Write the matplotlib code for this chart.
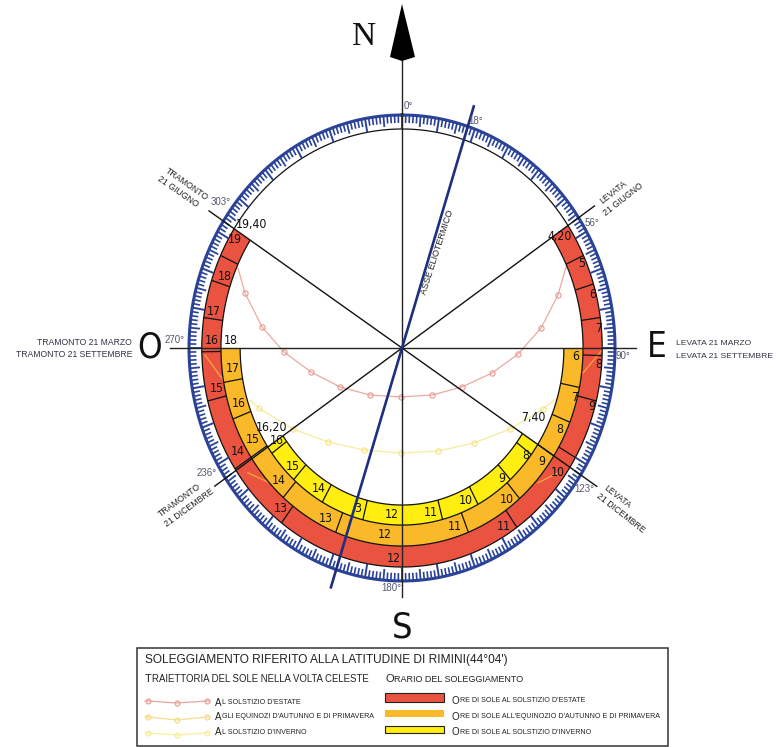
import numpy as np
import matplotlib
matplotlib.use("Agg")
import matplotlib.pyplot as plt
from matplotlib.patches import Polygon, Rectangle

plt.rcParams['font.family'] = ['Liberation Sans', 'DejaVu Sans']

W, H = 778, 747
CX, CY = 402, 348
RX, RY = 213, 233

NAVY = "#2a4398"
RED = "#ea5340"
ORANGE = "#f9b928"
YELLOW = "#ffee10"
GREY = "#55586e"

# azimuths of the sun at rise / set and of the hour dividers
summer_span = [56, 303]
equinox_span = [90, 270]
winter_span = [123, 236]
axis_az = 18
sun_lines = [56, 123, 236, 303]
sun_line_len = [1.09, 1.09, 1.06, 1.08]

summer_div = [65, 73, 82, 92, 104, 120, 145, 217, 236.5, 256, 269, 278, 288, 295]
equinox_div = [101.5, 112, 123, 139.5, 158.5, 201.5, 221, 236.5, 249, 260]
winter_div = [127, 138, 152, 165.5, 194, 209.5, 222, 233.5]

# sun paths, in units of the ring radius
summer_x = [-.770, -.737, -.657, -.554, -.427, -.291, -.150, -.005, .141, .282, .423, .545, .653, .732, .770]
summer_y = [.343, .236, .090, -.017, -.103, -.167, -.202, -.210, -.202, -.167, -.107, -.026, .086, .227, .348]
winter_x = [-.714, -.671, -.512, -.347, -.178, -.005, .169, .338, .507, .662, .728]
winter_y = [-.223, -.258, -.348, -.403, -.438, -.451, -.442, -.408, -.348, -.262, -.215]
# bits of the equinox path which show on the red band
equi_bits_x = [[-.925, -.840], [.850, .939], [-.723, -.620], [.638, .732]]
equi_bits_y = [[-.030, -.137], [-.107, -.009], [-.536, -.579], [-.579, -.536]]

# hour labels: text, pixel x, pixel y
red_labels = [("5", 582, 264), ("6", 593, 295), ("7", 599, 329), ("8", 599, 365), ("9", 592, 407),
              ("10", 558, 473), ("11", 504, 526), ("12", 394, 559), ("13", 281, 508), ("14", 238, 452),
              ("15", 217, 389), ("16", 212, 341), ("17", 214, 312), ("18", 225, 277), ("19", 235, 240)]
orange_labels = [("18", 231, 341), ("17", 233, 369), ("16", 239, 404), ("15", 253, 440), ("14", 279, 481),
                 ("13", 326, 519), ("12", 385, 534), ("11", 455, 526), ("10", 507, 500), ("9", 542, 462),
                 ("8", 560, 430), ("7", 575, 398), ("6", 576, 357)]
yellow_labels = [("16", 277, 441), ("15", 293, 467), ("14", 319, 489), ("3", 358, 508), ("12", 392, 515),
                 ("11", 431, 513), ("10", 466, 501), ("9", 502, 479), ("8", 526, 456)]
time_labels = [("4,20", 560, 237), ("19,40", 251, 225), ("7,40", 533, 418), ("16,20", 272, 428)]
deg_labels = [("0°", 408, 106), ("18°", 476, 121), ("56°", 592, 223), ("90°", 623, 356), ("123°", 584, 489),
              ("180°", 391, 588), ("236°", 207, 473), ("270°", 175, 340), ("303°", 221, 202)]
rot_labels = [("LEVATA", 613, 192, 38), ("21 GIUGNO", 623, 199, 38),
              ("LEVATA", 617, 497, -38), ("21 DICEMBRE", 621, 513, -38),
              ("TRAMONTO", 180, 500, 36), ("21 DICEMBRE", 189, 508, 36),
              ("TRAMONTO", 187, 184, -35), ("21 GIUGNO", 178, 192, -35)]


def unit(px, py):
    return (px - CX) / RX, (CY - py) / RY


def polar(az, r):
    a = np.radians(az)
    return r * np.sin(a), r * np.cos(a)


def band(az0, az1, r0, r1, color):
    az = np.linspace(az0, az1, 200)
    xo, yo = polar(az, r1)
    xi, yi = polar(az[::-1], r0)
    pts = np.column_stack([np.r_[xo, xi], np.r_[yo, yi]])
    ax.add_patch(Polygon(pts, closed=True, fc=color, ec="none", zorder=1))


def arc(az0, az1, r, **kw):
    x, y = polar(np.linspace(az0, az1, 400), r)
    ax.plot(x, y, **kw)


def label(s, px, py, size=9.5, **kw):
    x, y = unit(px, py)
    kw.setdefault("color", "#111111")
    kw.setdefault("zorder", 8)
    ax.text(x, y, s, size=size, ha=kw.pop("ha", "center"), va=kw.pop("va", "center"), **kw)


def px_to_x(disp):
    return ax.transData.inverted().transform((disp, 0))[0]


def small_caps(px, py, s, big=7, small=5.15):
    # first letter bigger, rest in small capitals
    x, y = unit(px, py)
    t = ax.text(x, y, s[0], size=big, va="center_baseline", color="#222222", zorder=8)
    bb = t.get_window_extent(fig.canvas.get_renderer())
    ax.text(px_to_x(bb.x1 + 0.5), y, s[1:], size=small, va="center_baseline", color="#222222", zorder=8)


fig = plt.figure(figsize=(W / 100, H / 100), dpi=100)
ax = fig.add_axes([0, 0, 1, 1])
ax.set_xlim(unit(0, 0)[0], unit(W, 0)[0])
ax.set_ylim(unit(0, H)[1], unit(0, 0)[1])
ax.axis("off")

# coloured bands
r_ring, r_red, r_orange, r_yellow = 0.94, 0.85, 0.76, 0.674
band(summer_span[0], summer_span[1], r_red, r_ring, RED)
band(equinox_span[0], equinox_span[1], r_orange, r_red, ORANGE)
band(winter_span[0], winter_span[1], r_yellow, r_orange, YELLOW)

line_kw = dict(color="#111111", lw=0.9, zorder=4, solid_capstyle="butt")
arc(0, 360, r_ring, **line_kw)
arc(summer_span[0], summer_span[1], r_red, **line_kw)
arc(equinox_span[0], equinox_span[1], r_orange, **line_kw)
arc(winter_span[0], winter_span[1], r_yellow, **line_kw)

for divs, r0, r1 in [(summer_div, r_red, r_ring), (equinox_div, r_orange, r_red), (winter_div, r_yellow, r_orange)]:
    for az in divs:
        x, y = polar(az, np.array([r0, r1]))
        ax.plot(x, y, **line_kw)

# degree scale
for deg in range(0, 360):
    if deg % 10 == 0:
        r0, lw = 0.94, 1.4
    elif deg % 5 == 0:
        r0, lw = 0.952, 1.3
    else:
        r0, lw = 0.966, 1.2
    x, y = polar(deg, np.array([r0, 1.0]))
    ax.plot(x, y, color=NAVY, lw=lw, zorder=5, solid_capstyle="butt")
arc(0, 360, 1.0, color=NAVY, lw=2.2, zorder=5)

# main cross and sun lines
x0, y0 = unit(170, 348)
x1, y1 = unit(636, 348)
ax.plot([x0, x1], [y0, y1], color="#222222", lw=1.0, zorder=6)
x0, y0 = unit(402, 60)
x1, y1 = unit(402, 597)
ax.plot([x0, x1], [y0, y1], color="#222222", lw=1.0, zorder=6)
for az, ln in zip(sun_lines, sun_line_len):
    x, y = polar(az, np.array([0, ln]))
    ax.plot(x, y, color="#111111", lw=1.0, zorder=6)
x, y = polar(axis_az, np.array([-1.08, 1.09]))
ax.plot(x, y, color="#1f2f80", lw=1.9, zorder=7)

# sun paths
ax.plot(summer_x, summer_y, color="#eaaaa0", lw=0.9, zorder=3, marker="o", ms=3.8, mfc="none", mec="#e79a90",
        mew=0.8, markevery=list(range(1, len(summer_x) - 1)))
ax.plot(winter_x, winter_y, color="#f7ec9c", lw=0.9, zorder=3, marker="o", ms=3.8, mfc="none", mec="#f5e27f",
        mew=0.8, markevery=list(range(1, len(winter_x) - 1)))
for xs, ys in zip(equi_bits_x, equi_bits_y):
    ax.plot(xs, ys, color="#f7a83c", lw=0.9, zorder=3)

# north arrow
tip = [unit(402, 4), unit(415, 57), unit(402, 61), unit(390, 57)]
ax.add_patch(Polygon(tip, closed=True, fc="black", ec="none", zorder=8))

# big letters
label("N", 364, 37, size=24, family="Liberation Serif")
label("S", 402, 627, size=26, family="DejaVu Sans", stretch="condensed", fontweight="normal")
label("O", 150, 348, size=25, family="DejaVu Sans", stretch="condensed")
label("E", 657, 347, size=25, family="DejaVu Sans", stretch="condensed")

for s, px, py in red_labels + orange_labels + yellow_labels + time_labels:
    label(s, px, py, size=8.8, family="DejaVu Sans", stretch="condensed")
for s, px, py in deg_labels:
    label(s, px, py, size=7, color=GREY)
for s, px, py, rot in rot_labels:
    label(s, px, py, size=6.3, rotation=rot, rotation_mode="anchor", color="#222222")
label("ASSE ELIOTERMICO", 437, 252, size=6.5, rotation=72, rotation_mode="anchor", color="#222222")
label("LEVATA 21 MARZO", 676, 344, size=6.1, ha="left", color="#333344")
label("LEVATA 21 SETTEMBRE", 676, 357, size=6.1, ha="left", color="#333344")
label("TRAMONTO 21 MARZO", 132, 343, size=6.2, ha="right", color="#333344")
label("TRAMONTO 21 SETTEMBRE", 132, 355, size=6.2, ha="right", color="#333344")

# legend box
x0, y1 = unit(137, 648)
x1, y0 = unit(668, 746)
ax.add_patch(Rectangle((x0, y0), x1 - x0, y1 - y0, fc="white", ec="#333333", lw=1.1, zorder=2))
label("SOLEGGIAMENTO RIFERITO ALLA LATITUDINE DI RIMINI(44°04')", 145, 660, size=8.6, ha="left", color="#222222")
small_caps(145, 678, "TRAIETTORIA DEL SOLE NELLA VOLTA CELESTE", big=8, small=6.9)
small_caps(385, 678, "ORARIO DEL SOLEGGIAMENTO", big=8, small=6.5)

legend_x = [148, 177, 207]
legend_rows = [([701, 703, 701], "#e9a59b"), ([717, 720, 717], "#f7dc8a"), ([733, 735, 733], "#f8ee9e")]
for ys, col in legend_rows:
    xs = [unit(px, 0)[0] for px in legend_x]
    yy = [unit(0, py)[1] for py in ys]
    ax.plot([unit(145, 0)[0]] + xs + [unit(210, 0)[0]], [yy[0]] + yy + [yy[2]], color=col, lw=0.9, zorder=3,
            marker="o", ms=3.4, mfc="none", mec=col, markevery=[1, 2, 3])

small_caps(215, 702, "AL SOLSTIZIO D'ESTATE")
small_caps(215, 716, "AGLI EQUINOZI D'AUTUNNO E DI PRIMAVERA")
small_caps(215, 731, "AL SOLSTIZIO D'INVERNO")
small_caps(452, 700, "ORE DI SOLE AL SOLSTIZIO D'ESTATE")
small_caps(452, 716, "ORE DI SOLE ALL'EQUINOZIO D'AUTUNNO E DI PRIMAVERA")
small_caps(452, 731, "ORE DI SOLE AL SOLSTIZIO D'INVERNO")

swatches = [(693, 702, RED, "#222222"), (710, 717, ORANGE, "none"), (726, 733, YELLOW, "#222222")]
for top, bottom, col, edge in swatches:
    xa, ya = unit(385, bottom)
    xb, yb = unit(444, top)
    ax.add_patch(Rectangle((xa, ya), xb - xa, yb - ya, fc=col, ec=edge, lw=0.8, zorder=3))

fig.savefig("out.png", dpi=100)
